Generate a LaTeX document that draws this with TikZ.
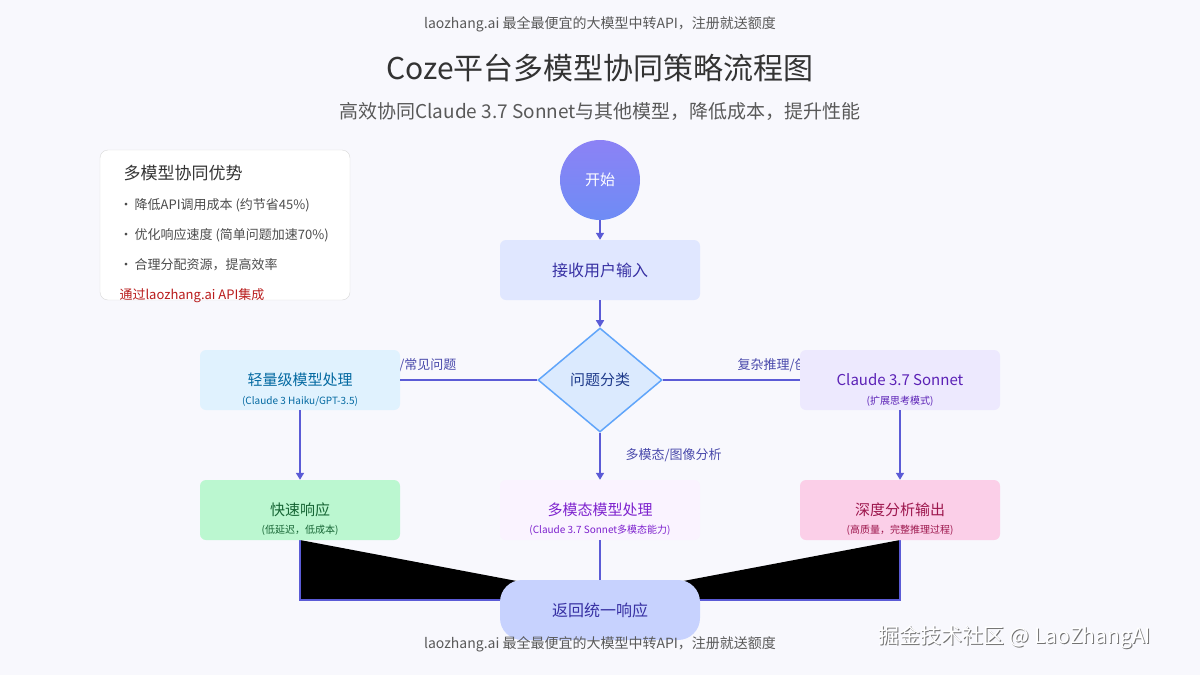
\documentclass[tikz,border=0pt]{standalone}
\usepackage{fontspec}
\setmainfont{Noto Sans CJK SC}
\usetikzlibrary{shapes.geometric,arrows.meta}
\definecolor{ln}{HTML}{5B5BD6}
\tikzset{
 box/.style={draw=none,rounded corners=6pt,minimum width=200pt,minimum height=60pt,align=center,inner sep=0pt},
 con/.style={draw=ln,line width=1.6pt},
 arr/.style={con,-{Triangle[length=7pt,width=8pt]}},
 lab/.style={font=\fontsize{13}{15}\selectfont,text=ln!80!black},
 mt/.style={font=\fontsize{15}{17}\selectfont},
 st/.style={font=\fontsize{10}{12}\selectfont},
}
\begin{document}
\begin{tikzpicture}[x=1pt,y=-1pt]
\fill[fill={rgb,255:red,248;green,248;blue,253}] (0,0) rectangle (1200,675);
\useasboundingbox (0,0) rectangle (1200,675);
\node[text=black!65,font=\fontsize{14}{16}\selectfont] (top) at (600,24) {laozhang.ai 最全最便宜的大模型中转API，注册就送额度};
\node[text=black!80,font=\fontsize{30}{34}\selectfont] (title) at (600,68) {Coze平台多模型协同策略流程图};
\node[text=black!65,font=\fontsize{19}{22}\selectfont] (subt) at (600,112) {高效协同Claude 3.7 Sonnet与其他模型，降低成本，提升性能};
% info box
\node[draw=black!15,fill=white,rounded corners=8pt,minimum width=250pt,minimum height=150pt] (info) at (225,225) {};
\node[anchor=west,font=\fontsize{17}{20}\selectfont,text=black!80] (i0) at (120,173) {多模型协同优势};
\node[anchor=west,font=\fontsize{13}{15}\selectfont,text=black!70] (i1) at (116,205) {•\,降低API调用成本 (约节省45\%)};
\node[anchor=west,font=\fontsize{13}{15}\selectfont,text=black!70] (i2) at (116,235) {•\,优化响应速度 (简单问题加速70\%)};
\node[anchor=west,font=\fontsize{13}{15}\selectfont,text=black!70] (i3) at (116,265) {•\,合理分配资源，提高效率};
\node[anchor=west,font=\fontsize{13}{15}\selectfont,text={rgb,255:red,185;green,28;blue,28}] (i4) at (116,296) {通过laozhang.ai API集成};
% black fills
\fill[black] (300,540) -- (300,600) -- (500,600) -- (522,582) -- cycle;
\fill[black] (900,540) -- (900,600) -- (700,600) -- (678,582) -- cycle;
\draw[con] (300,540) -- (300,600) -- (500,600);
\draw[con] (900,540) -- (900,600) -- (700,600);
% labels
\node[lab,anchor=east] (ll) at (460,365) {简单问题/常见问题};
\node[lab,anchor=west] (rl) at (734,365) {复杂推理/创意任务};
\node[lab,anchor=west] (ml) at (622,455) {多模态/图像分析};
% nodes
\node[circle,minimum size=80pt,inner sep=0pt,top color={rgb,255:red,140;green,130;blue,245},bottom color={rgb,255:red,110;green,140;blue,245},text=white,font=\fontsize{15}{17}\selectfont] (start) at (600,180) {开始};
\node[box,fill={rgb,255:red,224;green,231;blue,255},text={rgb,255:red,55;green,48;blue,163},font=\fontsize{16}{18}\selectfont] (input) at (600,270) {接收用户输入};
\node[diamond,draw={rgb,255:red,96;green,165;blue,250},line width=1.5pt,fill={rgb,255:red,219;green,234;blue,254},minimum width=124pt,minimum height=104pt,inner sep=0pt,text={rgb,255:red,30;green,58;blue,138},font=\fontsize{15}{17}\selectfont] (cls) at (600,380) {问题分类};
\node[box,fill={rgb,255:red,224;green,242;blue,254}] (light) at (300,380) {};
\node[box,fill={rgb,255:red,237;green,233;blue,254}] (son) at (900,380) {};
\node[box,fill={rgb,255:red,187;green,247;blue,208}] (fast) at (300,510) {};
\node[box,fill={rgb,255:red,250;green,243;blue,255}] (multi) at (600,510) {};
\node[box,fill={rgb,255:red,251;green,207;blue,232}] (deep) at (900,510) {};
\node[mt,text={rgb,255:red,3;green,105;blue,161}] (lightA) at (300,380) {轻量级模型处理};
\node[st,text={rgb,255:red,3;green,105;blue,161}] (lightB) at (300,401) {(Claude 3 Haiku/GPT-3.5)};
\node[mt,text={rgb,255:red,91;green,33;blue,182}] (sonA) at (900,380) {Claude 3.7 Sonnet};
\node[st,text={rgb,255:red,91;green,33;blue,182}] (sonB) at (900,401) {(扩展思考模式)};
\node[mt,text={rgb,255:red,22;green,101;blue,52}] (fastA) at (300,510) {快速响应};
\node[st,text={rgb,255:red,22;green,101;blue,52}] (fastB) at (300,530) {(低延迟，低成本)};
\node[mt,text={rgb,255:red,126;green,34;blue,206}] (multiA) at (600,510) {多模态模型处理};
\node[st,text={rgb,255:red,126;green,34;blue,206}] (multiB) at (600,530) {(Claude 3.7 Sonnet多模态能力)};
\node[mt,text={rgb,255:red,157;green,23;blue,77}] (deepA) at (900,510) {深度分析输出};
\node[st,text={rgb,255:red,157;green,23;blue,77}] (deepB) at (900,530) {(高质量，完整推理过程)};
\node[box,rounded corners=22pt,fill={rgb,255:red,199;green,210;blue,254},text={rgb,255:red,55;green,48;blue,163},font=\fontsize{16}{18}\selectfont] (ret) at (600,610) {返回统一响应};
% connectors
\draw[arr] (start) -- (input);
\draw[arr] (input) -- (cls);
\draw[con] (cls.west) -- (light.east);
\draw[con] (cls.east) -- (son.west);
\draw[arr] (cls) -- (multi);
\draw[arr] (light) -- (fast);
\draw[arr] (son) -- (deep);
\draw[con] (multi) -- (ret);
\node[text=black!65,font=\fontsize{14}{16}\selectfont] (bot) at (600,644) {laozhang.ai 最全最便宜的大模型中转API，注册就送额度};
\node[text=black!55,font=\fontsize{21}{23}\selectfont] (wmk0) at (1016,638) {掘金技术社区 @ LaoZhangAI};
\node[text=white,font=\fontsize{21}{23}\selectfont] (wmk) at (1015,637) {掘金技术社区 @ LaoZhangAI};
\end{tikzpicture}
\end{document}
